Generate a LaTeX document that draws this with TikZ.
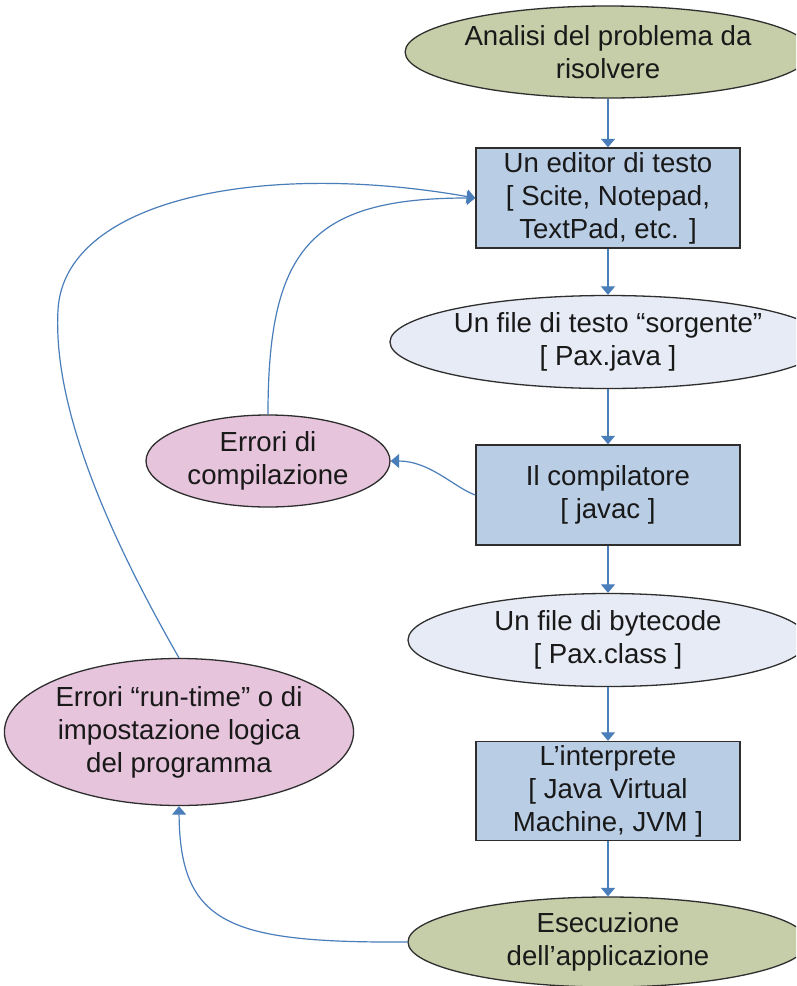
\documentclass[tikz,border=0pt]{standalone}
\usepackage{fontspec}
\setmainfont{Liberation Sans}
\usetikzlibrary{shapes.geometric,arrows.meta}
\definecolor{lineblue}{HTML}{4A7EBB}
\definecolor{rectfill}{HTML}{B9CDE5}
\definecolor{palefill}{HTML}{E6EBF5}
\definecolor{olivefill}{HTML}{C5CEA8}
\definecolor{pinkfill}{HTML}{E6C4DC}
\definecolor{edge}{HTML}{2E2E2E}
\tikzset{
  txt/.style={font=\fontsize{27.6}{33}\selectfont, align=center, text=black!90, inner sep=0pt},
  boxnode/.style={txt, rectangle, draw=edge, line width=1.4pt, fill=rectfill, minimum width=264pt, minimum height=100pt},
  ovalnode/.style={txt, ellipse, draw=edge, line width=1.3pt},
  arr/.style={draw=lineblue, line width=1.2pt, -{Triangle[width=14pt,length=8.5pt]}}
}
\begin{document}
\begin{tikzpicture}[x=1pt,y=-1pt]
\useasboundingbox (0,0) rectangle (796,986);
\clip (0,0) rectangle (796,986);
\fill[white] (0,0) rectangle (796,986);

\node[ovalnode, fill=olivefill, minimum width=400pt, minimum height=92pt] (analisi) at (608,52) {Analisi del problema da\\risolvere};
\node[boxnode] (editor) at (608,198) {Un editor di testo\\{[} Scite, Notepad,\\TextPad, etc. ]};
\node[ovalnode, fill=palefill, minimum width=400pt, minimum height=93pt] (sorgente) at (608,342) {Un file di testo “sorgente”\\{[} Pax.java ]};
\node[boxnode] (compilatore) at (608,495) {Il compilatore\\{[} javac ]};
\node[ovalnode, fill=palefill, minimum width=400pt, minimum height=93pt] (bytecode) at (608,640) {Un file di bytecode\\{[} Pax.class ]};
\node[boxnode, minimum height=99pt] (interprete) at (608,791) {L’interprete\\{[} Java Virtual\\Machine, JVM ]};
\node[ovalnode, fill=olivefill, minimum width=400pt, minimum height=90pt] (esecuzione) at (608,942) {Esecuzione\\dell’applicazione};
\node[ovalnode, fill=pinkfill, minimum width=244pt, minimum height=92pt] (errcomp) at (268,461) {Errori di\\compilazione};
\node[ovalnode, fill=pinkfill, minimum width=332pt, minimum height=147pt] (errrun) at (179,732) {Errori “run-time” o di\\impostazione logica\\del programma};

\draw[arr] (analisi) -- (editor);
\draw[arr] (editor) -- (sorgente);
\draw[arr] (sorgente) -- (compilatore);
\draw[arr] (compilatore) -- (bytecode);
\draw[arr] (bytecode) -- (interprete);
\draw[arr] (interprete) -- (esecuzione);

\draw[arr] (compilatore.west) .. controls (455,488) and (430,461) .. (errcomp.east);
\draw[arr] (errcomp.north) .. controls (268,250) and (310,198) .. (editor.west);
\draw[arr] (errrun.north) .. controls (100,520) and (53,400) .. (58,310)
  .. controls (64,200) and (260,160) .. (editor.west);
\draw[arr] (esecuzione.west) .. controls (230,943) and (180,925) .. (errrun.south);
\end{tikzpicture}
\end{document}
